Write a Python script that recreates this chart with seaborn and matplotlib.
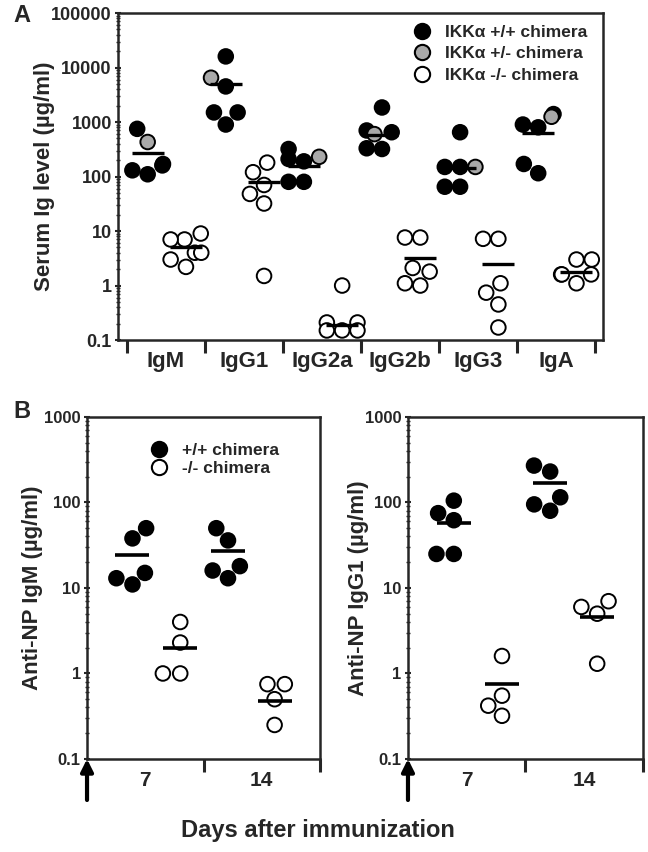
import numpy as np
import pandas as pd
import seaborn as sns
import matplotlib.pyplot as plt
from matplotlib.lines import Line2D
from matplotlib.ticker import FuncFormatter, LogLocator, NullFormatter

# ---- panel A: serum Ig levels (ug/ml) ----
isotypes = ['IgM', 'IgG1', 'IgG2a', 'IgG2b', 'IgG3', 'IgA']
wt_vals = [[750, 170, 160, 130, 110],
           [16000, 4500, 1500, 1500, 900],
           [320, 210, 190, 80, 80],
           [1850, 700, 650, 330, 320],
           [650, 150, 150, 65, 65],
           [1400, 900, 800, 170, 115]]
het_vals = [[430], [6500], [230], [600], [150], [1250]]
ko_vals = [[9, 7, 7, 4, 4, 3, 2.2],
           [180, 120, 70, 48, 32, 1.5],
           [1.0, 0.21, 0.21, 0.15, 0.15, 0.15],
           [7.6, 7.6, 2.1, 1.8, 1.1, 1.0],
           [7.2, 7.2, 1.1, 0.74, 0.45, 0.17],
           [3.0, 3.0, 1.6, 1.6, 1.6, 1.1]]
wt_mean = [270, 5000, 155, 590, 145, 620]
ko_mean = [5.2, 78, 0.19, 3.2, 2.5, 1.8]

# ---- panel B: anti-NP responses ----
days = ['7', '14']
igm_wt = [[50, 38, 15, 13, 11], [50, 36, 18, 16, 13]]
igm_ko = [[4, 2.3, 1.0, 1.0], [0.75, 0.75, 0.5, 0.25]]
igm_wt_mean = [24, 27]
igm_ko_mean = [2.0, 0.48]
igg1_wt = [[105, 75, 62, 25, 25], [270, 230, 115, 95, 80]]
igg1_ko = [[1.6, 0.55, 0.42, 0.32], [7, 6, 5, 1.3]]
igg1_wt_mean = [57, 170]
igg1_ko_mean = [0.75, 4.6]

lab_wt = 'IKK\u03b1 +/+ chimera'
lab_het = 'IKK\u03b1 +/- chimera'
lab_ko = 'IKK\u03b1 -/- chimera'
colors = {lab_wt: 'black', lab_het: '#a9a9a9', lab_ko: 'white'}

sns.set_style('ticks')
plt.rcParams['font.family'] = ['Liberation Sans', 'DejaVu Sans']
plt.rcParams['font.weight'] = 'bold'
plt.rcParams['axes.labelweight'] = 'bold'
plt.rcParams['axes.linewidth'] = 1.8


def long_table(groups, positions, label):
    rows = []
    for pos, vals in zip(positions, groups):
        for v in vals:
            rows.append({'pos': pos, 'value': v, 'group': label})
    return rows


def log_yaxis(ax, lo, hi, size):
    ax.set_yscale('log')
    ax.set_ylim(lo, hi)
    ax.yaxis.set_major_locator(LogLocator(base=10))
    ax.yaxis.set_major_formatter(FuncFormatter(lambda v, p: f'{v:g}'))
    ax.yaxis.set_minor_locator(LogLocator(base=10, subs=np.arange(2, 10)))
    ax.yaxis.set_minor_formatter(NullFormatter())
    ax.tick_params(axis='y', which='major', length=5, width=1.5,
                   direction='inout', labelsize=size, pad=2)
    ax.tick_params(axis='y', which='minor', length=3, width=1,
                   direction='inout')


fig = plt.figure(figsize=(6.48, 8.52), dpi=100)
axA = fig.add_axes([0.1821, 0.6009, 0.7485, 0.3838])
axB1 = fig.add_axes([0.1343, 0.1092, 0.3596, 0.4014])
axB2 = fig.add_axes([0.6296, 0.1092, 0.3627, 0.4014])

# ---- panel A ----
idx = np.arange(len(isotypes))
wt_pos = idx - 0.23
ko_pos = idx + 0.26
log_yaxis(axA, 0.1, 1e5, 13)
dfA = pd.DataFrame(long_table(wt_vals, wt_pos, lab_wt)
                   + long_table(het_vals, wt_pos, lab_het)
                   + long_table(ko_vals, ko_pos, lab_ko))
dfA = dfA.sort_values('pos', kind='stable')
sns.swarmplot(data=dfA, x='pos', y='value', hue='group', palette=colors,
              native_scale=True, orient='x', size=10.5, edgecolor='black',
              linewidth=1.4, legend=False, warn_thresh=1, ax=axA)
sns.scatterplot(x=np.r_[wt_pos, ko_pos], y=wt_mean + ko_mean, marker='_',
                s=500, color='black', linewidth=2.4, legend=False, ax=axA,
                zorder=5)
axA.set_xlim(-0.61, 5.6)
axA.set_xticks(idx)
axA.set_xticklabels(isotypes)
axA.set_xticks(np.arange(-0.5, 6), minor=True)
axA.tick_params(axis='x', which='major', length=0, labelsize=16, pad=8)
axA.tick_params(axis='x', which='minor', length=9, width=2.2, direction='out')
axA.set_xlabel('')
axA.set_ylabel('Serum Ig level (\u00b5g/ml)', fontsize=16)
axA.yaxis.set_label_coords(-0.13, 0.5)
handles = [Line2D([], [], marker='o', ls='', markersize=11,
                  markerfacecolor=colors[k], markeredgecolor='black',
                  markeredgewidth=1.5) for k in [lab_wt, lab_het, lab_ko]]
axA.legend(handles, [lab_wt, lab_het, lab_ko], loc='upper right',
           bbox_to_anchor=(0.974, 0.975), frameon=False, fontsize=12.5,
           handletextpad=0.3, labelspacing=0.36, borderaxespad=0,
           borderpad=0.2)

# ---- panel B ----
b_wt_pos = np.array([0.39, 1.21])
b_ko_pos = np.array([0.80, 1.61])
panels = [(axB1, igm_wt, igm_ko, igm_wt_mean, igm_ko_mean,
           'Anti-NP IgM (\u00b5g/ml)', -0.19),
          (axB2, igg1_wt, igg1_ko, igg1_wt_mean, igg1_ko_mean,
           'Anti-NP IgG1 (\u00b5g/ml)', -0.165)]
for ax, wt, ko, wm, km, ylab, lx in panels:
    log_yaxis(ax, 0.1, 1000, 12)
    df = pd.DataFrame(long_table(wt, b_wt_pos, lab_wt)
                      + long_table(ko, b_ko_pos, lab_ko))
    sns.swarmplot(data=df, x='pos', y='value', hue='group', palette=colors,
                  native_scale=True, orient='x', size=10.5, edgecolor='black',
                  linewidth=1.4, legend=False, warn_thresh=1, ax=ax)
    sns.scatterplot(x=np.r_[b_wt_pos, b_ko_pos], y=wm + km, marker='_',
                    s=620, color='black', linewidth=2.6, legend=False, ax=ax,
                    zorder=5)
    ax.set_xlim(0, 2)
    ax.set_xticks([0.5, 1.5])
    ax.set_xticklabels(days)
    ax.set_xticks([1, 2], minor=True)
    ax.tick_params(axis='x', which='major', length=0, labelsize=15, pad=9)
    ax.tick_params(axis='x', which='minor', length=9, width=2.2,
                   direction='out')
    ax.set_xlabel('')
    ax.set_ylabel(ylab, fontsize=16)
    ax.yaxis.set_label_coords(lx, 0.5)
    ax.annotate('', xy=(0, 0), xycoords=('data', 'axes fraction'),
                xytext=(0, -0.12), textcoords=('data', 'axes fraction'),
                arrowprops=dict(arrowstyle='-|>', lw=3, color='black',
                                mutation_scale=18, shrinkA=0, shrinkB=0),
                annotation_clip=False)

handlesB = [Line2D([], [], marker='o', ls='', markersize=11,
                   markerfacecolor=c, markeredgecolor='black',
                   markeredgewidth=1.5) for c in ['black', 'white']]
axB1.legend(handlesB, ['+/+ chimera', '-/- chimera'], loc='upper center',
            bbox_to_anchor=(0.53, 0.935), frameon=False, fontsize=12.5,
            handletextpad=0.3, labelspacing=0.2, borderaxespad=0,
            borderpad=0.2)

fig.text(13 / 648, 1 - 15 / 852, 'A', fontsize=17, weight='bold',
         va='center')
fig.text(13 / 648, 1 - 412 / 852, 'B', fontsize=17, weight='bold',
         va='center')
fig.text(0.49, 1 - 830 / 852, 'Days after immunization', fontsize=17,
         weight='bold', ha='center', va='center')

fig.savefig('out.png', dpi=100)
